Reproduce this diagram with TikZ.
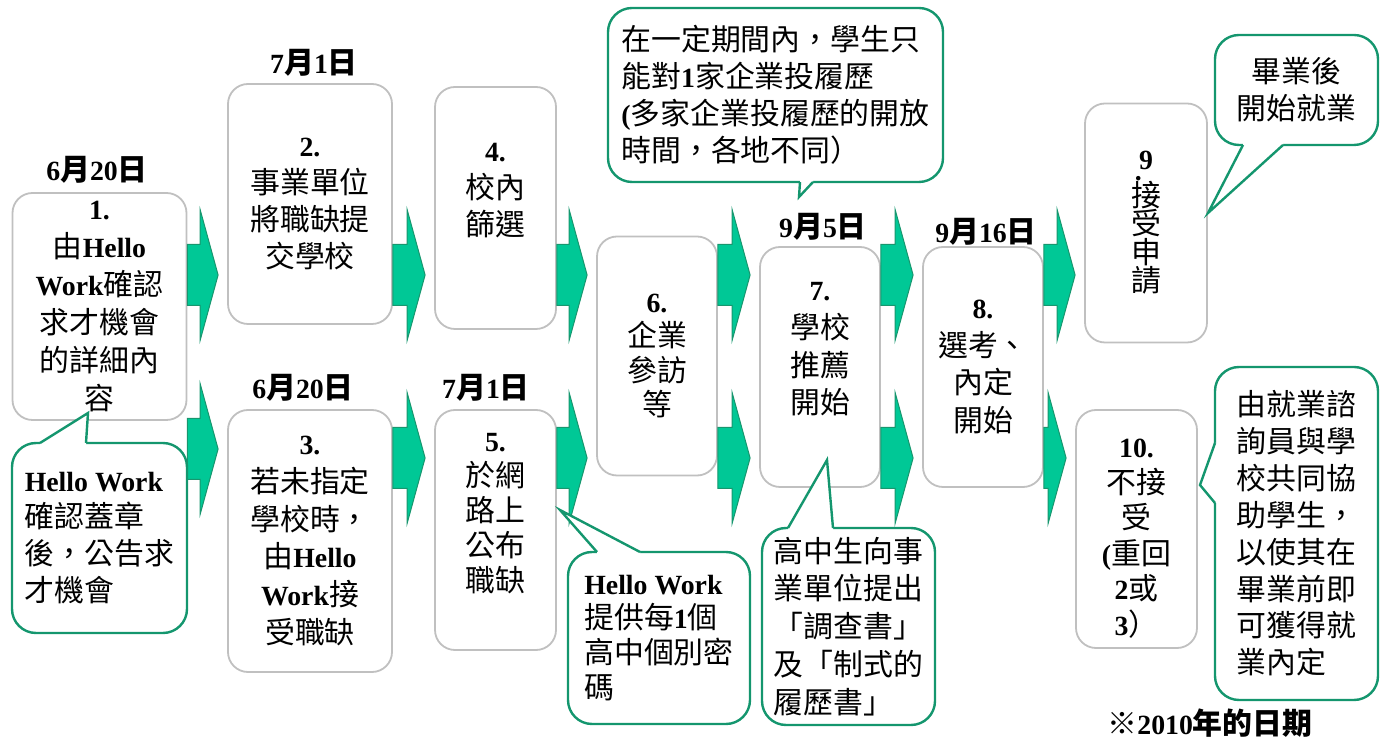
\documentclass[tikz,border=0pt]{standalone}
\usepackage{fontspec}
\setmainfont{Noto Sans CJK TC}
\newfontfamily\latinbf{Liberation Serif}[Scale=0.93]
\usetikzlibrary{calc}
\definecolor{arrowfill}{RGB}{0,200,150}
\definecolor{arrowedge}{RGB}{24,150,110}
\definecolor{noteedge}{RGB}{20,150,110}
\definecolor{boxedge}{RGB}{192,192,192}
\newcommand{\lb}[1]{{\latinbf\bfseries #1}}
\newcommand{\linesat}[1]{\fontsize{15}{#1}\selectfont\lineskiplimit=-20pt\relax}
\newcommand{\rowstrut}{\rule[-1.7bp]{0pt}{13.3bp}}
% block arrow from one box to the next, at the height of a row coordinate
\newcommand{\flowarrow}[3]{%
  \draw[flowarrow] let \p1=(#1.east |- #3), \p2=(#2.west |- #3) in
    (\x1,{\y1+15.25bp}) -- ({\x2-13.5bp},{\y1+15.25bp}) -- ({\x2-13.5bp},{\y1+32.75bp})
    -- ({\x2-4.5bp},\y1) -- ({\x2-13.5bp},{\y1-32.75bp}) -- ({\x2-13.5bp},{\y1-15.25bp})
    -- (\x1,{\y1-15.25bp}) -- cycle;}
% pointer of a note: base point, tip, base point, shift into the note
\newcommand{\notetip}[4]{%
  \fill[white] ($(#1)+#4$) -- (#1) -- (#2) -- (#3) -- ($(#3)+#4$) -- cycle;
  \draw[noteline] (#1) -- (#2) -- (#3);}
\begin{document}
\begin{tikzpicture}[>=latex,line join=bevel,
  stepbox/.style={draw=boxedge,line width=0.9bp,rounded corners=10bp,fill=white,align=center,inner sep=0pt,font=\linesat{18.5}},
  notebox/.style={draw=noteedge,line width=1.2bp,rounded corners=12bp,fill=white,align=left,inner sep=0pt,font=\linesat{18.5}},
  datelabel/.style={inner sep=0pt,font=\fontsize{15}{18}\selectfont\bfseries},
  flowarrow/.style={fill=arrowfill,draw=arrowedge,line width=0.5bp,line join=miter},
  noteline/.style={draw=noteedge,line width=1.2bp,line join=miter}]
\useasboundingbox (0bp,0bp) rectangle (694.5bp,370bp);
%%
\node (box_1) at (49.75bp,216.75bp) [stepbox,minimum width=87bp,minimum height=113.5bp,font=\linesat{19}] {\lb{1.}\\由\lb{Hello}\\\lb{Work}確認\\求才機會\\的詳細內\\容};
\node (box_2) at (155bp,268bp) [stepbox,minimum width=82bp,minimum height=120bp] {\lb{2.}\\事業單位\\將職缺提\\交學校};
\node (box_3) at (155bp,99.5bp) [stepbox,minimum width=82bp,minimum height=131bp,font=\linesat{18.9}] {\lb{3.}\\若未指定\\學校時，\\由\lb{Hello}\\\lb{Work}接\\受職缺};
\node (box_4) at (247.75bp,266bp) [stepbox,minimum width=60.5bp,minimum height=121bp] {\lb{4.}\\校內\\篩選\\\mbox{}};
\node (box_5) at (247.75bp,105bp) [stepbox,minimum width=60.5bp,minimum height=120bp,font=\linesat{17.5}] {\lb{5.}\\於網\\路上\\公布\\職缺\\\mbox{}};
\node (box_6) at (328.5bp,192bp) [stepbox,minimum width=60bp,minimum height=119.5bp,font=\linesat{17.2}] {\lb{6.}\\企業\\參訪\\等};
\node (box_7) at (410bp,186.5bp) [stepbox,minimum width=60bp,minimum height=120bp,font=\linesat{19}] {\lb{7.}\\學校\\推薦\\開始\\\mbox{}};
\node (box_8) at (491.5bp,186.5bp) [stepbox,minimum width=60bp,minimum height=120bp,font=\linesat{19}] {\lb{8.}\\選考、\\內定\\開始};
\node (box_9) at (573bp,258.5bp) [stepbox,minimum width=61bp,minimum height=119.5bp] {\vbox{\offinterlineskip\halign{\hfil#\hfil\cr
  \rule[-6bp]{0pt}{14.5bp}\makebox[0pt][l]{\hspace{-2.1bp}\raisebox{-5.5bp}[0pt][0pt]{\lb{.}}}\lb{9}\cr
  \rowstrut 接\cr
  \rowstrut 受\cr
  \rowstrut 申\cr
  \rowstrut 請\cr}}};
\node (box_10) at (568.25bp,105.5bp) [stepbox,minimum width=60.5bp,minimum height=119bp,font=\linesat{17.8}] {\rule{0pt}{19bp}\lb{10.}\\不接\\受\\\lb{(}重回\\\lb{2}或\\\lb{3}）};
%
\coordinate (row_top) at (0bp,232.5bp);
\coordinate (row_first) at (0bp,145.5bp);
\coordinate (row_low) at (0bp,141bp);
\flowarrow{box_1}{box_2}{row_top}
\flowarrow{box_1}{box_3}{row_first}
\flowarrow{box_2}{box_4}{row_top}
\flowarrow{box_3}{box_5}{row_low}
\flowarrow{box_4}{box_6}{row_top}
\flowarrow{box_5}{box_6}{row_low}
\flowarrow{box_6}{box_7}{row_top}
\flowarrow{box_6}{box_7}{row_low}
\flowarrow{box_7}{box_8}{row_top}
\flowarrow{box_7}{box_8}{row_low}
\flowarrow{box_8}{box_9}{row_top}
\flowarrow{box_8}{box_10}{row_low}
%
\node (note_1) at (49.75bp,101bp) [notebox,minimum width=87.5bp,minimum height=95bp] {\lb{Hello Work}\\確認蓋章\\後，公告求\\才機會};
\node (note_2) at (329.5bp,51bp) [notebox,minimum width=91bp,minimum height=86bp,font=\linesat{17.5}] {\lb{Hello Work}\\提供每\lb{1}個\\高中個別密\\碼};
\node (note_3) at (387.75bp,322.5bp) [notebox,minimum width=167.5bp,minimum height=87bp] {在一定期間內，學生只\\能對\lb{1}家企業投履歷\\\lb{(}多家企業投履歷的開放\\時間，各地不同）};
\node (note_4) at (424.25bp,56.75bp) [notebox,minimum width=86.5bp,minimum height=98.5bp,font=\linesat{19}] {高中生向事\\業單位提出\\「調查書」\\及「制式的\\履歷書」};
\node (note_5) at (648.25bp,325bp) [notebox,align=center,minimum width=81.5bp,minimum height=55bp] {畢業後\\開始就業};
\node (note_6) at (648.25bp,103.25bp) [notebox,minimum width=81.5bp,minimum height=166.5bp] {由就業諮\\詢員與學\\校共同協\\助學生，\\以使其在\\畢業前即\\可獲得就\\業內定};
\coordinate (tip_1) at (44bp,163.5bp);
\coordinate (tip_2) at (280bp,115bp);
\coordinate (tip_3) at (399.5bp,271.5bp);
\coordinate (tip_4) at (413.5bp,140bp);
\coordinate (tip_5) at (604bp,263.5bp);
\coordinate (tip_6) at (600bp,127.5bp);
\notetip{20bp,148.5bp}{tip_1}{43bp,148.5bp}{(0,-1.6bp)}
\notetip{298.5bp,94bp}{tip_2}{320bp,94bp}{(0,-1.6bp)}
\notetip{400bp,279bp}{tip_3}{406.5bp,279bp}{(0,1.6bp)}
\notetip{394bp,106bp}{tip_4}{416.5bp,106bp}{(0,-1.6bp)}
\notetip{621.5bp,297.5bp}{tip_5}{641.5bp,297.5bp}{(0,1.6bp)}
\notetip{607.5bp,148.5bp}{tip_6}{607.5bp,118.5bp}{(1.6bp,0)}
%
\node (date_1) at (48.5bp,285bp) [datelabel] {\lb{6}月\lb{20}日};
\node (date_2) at (157bp,338.5bp) [datelabel] {\lb{7}月\lb{1}日};
\node (date_3) at (151.5bp,176bp) [datelabel] {\lb{6}月\lb{20}日};
\node (date_4) at (243bp,176bp) [datelabel] {\lb{7}月\lb{1}日};
\node (date_5) at (411.5bp,256.5bp) [datelabel] {\lb{9}月\lb{5}日};
\node (date_6) at (493bp,254bp) [datelabel] {\lb{9}月\lb{16}日};
\node (remark) at (605bp,8.5bp) [datelabel] {※\lb{2010}年的日期};
%
\end{tikzpicture}
\end{document}
